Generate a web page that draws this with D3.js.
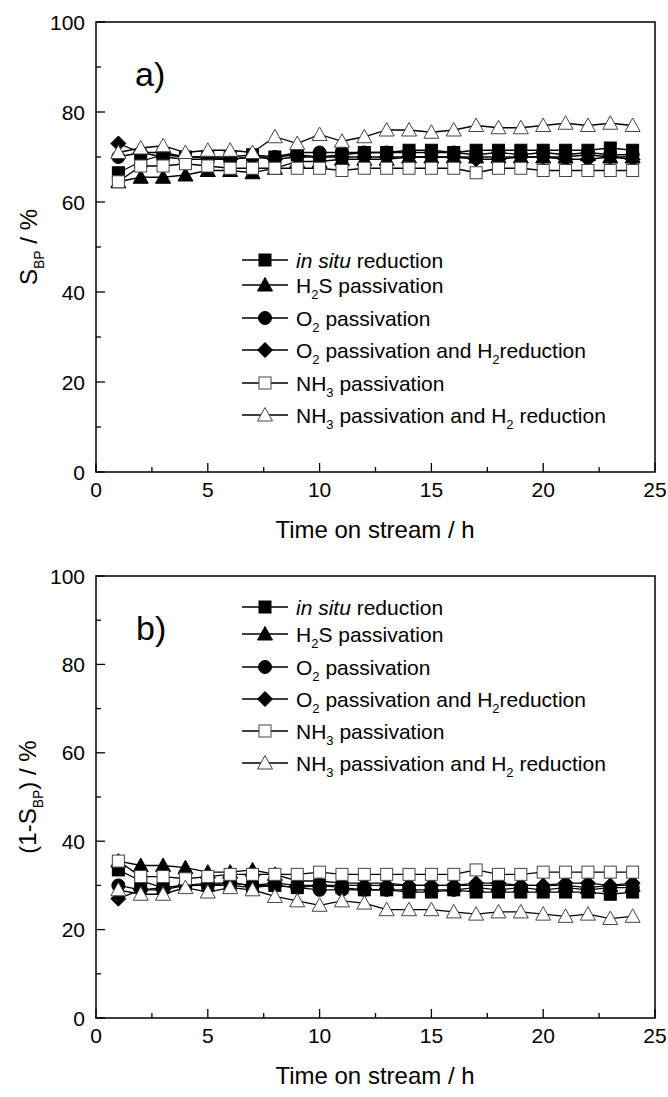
<!DOCTYPE html>
<html lang="en">
<head>
<meta charset="UTF-8">
<title>S_BP vs time on stream</title>
<script src="https://d3js.org/d3.v7.min.js"></script>
<style>
  body { margin: 0; background: #fff; }
  svg text { font-family: "Liberation Sans", Arial, sans-serif; fill: #000; }
</style>
</head>
<body>
<svg id="chart" width="668" height="1097"></svg>
<script>
// time on stream (h)
const hours = d3.range(1, 25);

// panel a: S_BP / %
const inSituA   = [66.5, 69, 70.5, 70, 70, 70, 70.5, 70, 70.5, 70, 70.5, 71, 71, 71.5, 71.5, 71, 71.5, 71.5, 71.5, 71.5, 71.5, 71.5, 72, 71.5];
const h2sA      = [64.5, 65.5, 65.5, 66, 67, 67, 66.5, 67.5, 69, 69, 69.5, 69.5, 69.5, 70, 70, 70, 70, 70, 70, 70, 70, 70.5, 70, 70];
const o2A       = [70, 71, 70, 69.5, 69.5, 69.5, 70, 70, 71, 71, 71, 71, 71, 71, 71, 71, 70.5, 71, 70.5, 71, 70.5, 71, 70.5, 70.5];
const o2h2A     = [73, 71, 71, 70, 70, 69.5, 70, 69.5, 70, 70, 70, 70, 70, 70, 70, 70, 69.5, 69.5, 70, 70, 69.5, 69.5, 70, 69.5];
const nh3A      = [64.5, 68, 68, 68.5, 68, 67.5, 67.5, 67.5, 67.5, 67.5, 67, 67.5, 67.5, 67.5, 67.5, 67.5, 66.5, 67.5, 67.5, 67, 67, 67, 67, 67];
const nh3h2A    = [71, 72, 72.5, 71, 71.5, 71.5, 71, 74.5, 73, 75, 73.5, 74.5, 76, 76, 75.5, 76, 77, 76.5, 76.5, 77, 77.5, 77, 77.5, 77];

// panel b: (1-S_BP) / %
const inSituB   = [33.5, 31, 29.5, 30, 30, 30, 29.5, 30, 29.5, 30, 29.5, 29, 29, 28.5, 28.5, 29, 28.5, 28.5, 28.5, 28.5, 28.5, 28.5, 28, 28.5];
const h2sB      = [35.5, 34.5, 34.5, 34, 33, 33, 33.5, 32.5, 31, 31, 30.5, 30.5, 30.5, 30, 30, 30, 30, 30, 30, 30, 30, 29.5, 30, 30];
const o2B       = [30, 29, 29.5, 30, 30.5, 30.5, 30, 30, 29.5, 29, 29, 29, 29, 29, 29, 29, 29.5, 29, 29.5, 29, 29.5, 29, 29.5, 29.5];
const o2h2B     = [27, 29, 29, 30, 30, 30.5, 30, 30.5, 30, 30, 30, 30, 30, 30, 30, 30, 30.5, 30.5, 30, 30, 30.5, 30.5, 30, 30.5];
const nh3B      = [35.5, 32, 32, 31.5, 32, 32.5, 32.5, 32.5, 32.5, 33, 32.5, 32.5, 32.5, 32.5, 32.5, 32.5, 33.5, 32.5, 32.5, 33, 33, 33, 33, 33];
const nh3h2B    = [29, 28, 28, 29.5, 28.5, 29.5, 29, 27.5, 26.5, 25.5, 26.5, 26, 24.5, 24.5, 24.5, 24, 23.5, 24, 24, 23.5, 23, 23.5, 22.5, 23];

// legend labels: [text, kind] pieces (i = italic, s = subscript)
const legendLabels = [
  [["in situ", "i"], [" reduction", ""]],
  [["H", ""], ["2", "s"], ["S passivation", ""]],
  [["O", ""], ["2", "s"], [" passivation", ""]],
  [["O", ""], ["2", "s"], [" passivation and H", ""], ["2", "s"], ["reduction", ""]],
  [["NH", ""], ["3", "s"], [" passivation", ""]],
  [["NH", ""], ["3", "s"], [" passivation and H", ""], ["2", "s"], [" reduction", ""]]
];
const symbols = ["square", "triangle", "circle", "diamond", "square", "triangle"];
const filled  = [true, true, true, true, false, false];

const xTicks = [0, 5, 10, 15, 20, 25];
const yTicks = [0, 20, 40, 60, 80, 100];

const svg = d3.select("#chart");

function marker(g, type, fill, cx, cy) {
  const fc = fill ? "#000" : "#fff";
  const sc = fill ? "#000" : "#444";
  if (type === "square") {
    g.append("rect").attr("x", cx - 6).attr("y", cy - 6).attr("width", 12).attr("height", 12)
      .attr("fill", fc).attr("stroke", sc).attr("stroke-width", 1);
  } else if (type === "circle") {
    g.append("circle").attr("cx", cx).attr("cy", cy).attr("r", 6.5)
      .attr("fill", fc).attr("stroke", sc).attr("stroke-width", 1);
  } else if (type === "triangle") {
    g.append("path").attr("d", `M${cx},${cy - 7.5}L${cx + 7.5},${cy + 6}L${cx - 7.5},${cy + 6}Z`)
      .attr("fill", fc).attr("stroke", sc).attr("stroke-width", 1);
  } else if (type === "diamond") {
    g.append("path").attr("d", `M${cx},${cy - 7.5}L${cx + 7.5},${cy}L${cx},${cy + 7.5}L${cx - 7.5},${cy}Z`)
      .attr("fill", fc).attr("stroke", sc).attr("stroke-width", 1);
  }
}

function panel(opt) {
  const x = d3.scaleLinear().domain([0, 25]).range([96, 655]);
  const y = d3.scaleLinear().domain([0, 100]).range([opt.bottom, opt.top]);
  const g = svg.append("g");

  // series
  opt.series.forEach((vals, i) => {
    const sg = g.append("g");
    const line = d3.line().x((d, j) => x(hours[j])).y(d => y(d));
    sg.append("path").attr("d", line(vals)).attr("fill", "none")
      .attr("stroke", "#000").attr("stroke-width", 1.3);
    vals.forEach((v, j) => marker(sg, symbols[i], filled[i], x(hours[j]), y(v)));
  });

  // frame
  g.append("rect").attr("x", x(0)).attr("y", y(100))
    .attr("width", x(25) - x(0)).attr("height", y(0) - y(100))
    .attr("fill", "none").attr("stroke", "#000").attr("stroke-width", 1.5);

  // x ticks (inward)
  d3.range(0, 25.1, 2.5).forEach(t => {
    const major = t % 5 === 0;
    g.append("line").attr("x1", x(t)).attr("x2", x(t))
      .attr("y1", y(0)).attr("y2", y(0) - (major ? 9 : 5))
      .attr("stroke", "#000").attr("stroke-width", 1.3);
  });
  xTicks.forEach(t => {
    g.append("text").attr("x", x(t)).attr("y", y(0) + 25)
      .attr("text-anchor", "middle").attr("font-size", 21).text(t);
  });

  // y ticks (inward)
  d3.range(0, 101, 10).forEach(t => {
    const major = t % 20 === 0;
    g.append("line").attr("x1", x(0)).attr("x2", x(0) + (major ? 9 : 5))
      .attr("y1", y(t)).attr("y2", y(t))
      .attr("stroke", "#000").attr("stroke-width", 1.3);
  });
  yTicks.forEach(t => {
    g.append("text").attr("x", 85).attr("y", y(t) + 7.5)
      .attr("text-anchor", "end").attr("font-size", 21).text(t);
  });

  // axis titles
  g.append("text").attr("x", 375).attr("y", y(0) + 66)
    .attr("text-anchor", "middle").attr("font-size", 24).text("Time on stream / h");

  const yt = g.append("text")
    .attr("transform", `translate(${opt.yTitleX},${(y(0) + y(100)) / 2}) rotate(-90)`)
    .attr("text-anchor", "middle").attr("font-size", 24);
  opt.yTitle.forEach(p => {
    if (p[1] === "s") {
      yt.append("tspan").attr("font-size", 14).attr("dy", 7).text(p[0]);
    } else {
      yt.append("tspan").attr("dy", p[2] ? -7 : 0).text(p[0]);
    }
  });

  // panel label
  g.append("text").attr("x", opt.labelX).attr("y", opt.labelY)
    .attr("font-size", 34).text(opt.label);

  // legend
  opt.legendY.forEach((ly, i) => {
    const lg = g.append("g");
    lg.append("line").attr("x1", 242).attr("x2", 288).attr("y1", ly).attr("y2", ly)
      .attr("stroke", "#000").attr("stroke-width", 1.3);
    marker(lg, symbols[i], filled[i], 265, ly);
    const t = lg.append("text").attr("x", 296).attr("y", ly + 7.5).attr("font-size", 21);
    let sub = false;
    legendLabels[i].forEach(p => {
      const ts = t.append("tspan").text(p[0]);
      if (p[1] === "i") ts.attr("font-style", "italic");
      if (p[1] === "s") { ts.attr("font-size", 13).attr("dy", 6); sub = true; }
      else if (sub) { ts.attr("dy", -6); sub = false; }
    });
  });
}

panel({
  top: 22, bottom: 472,
  series: [inSituA, h2sA, o2A, o2h2A, nh3A, nh3h2A],
  yTitle: [["S", ""], ["BP", "s"], [" / %", "", true]],
  yTitleX: 37,
  label: "a)", labelX: 135, labelY: 86,
  legendY: [260, 285, 318, 350, 383, 415]
});

panel({
  top: 576, bottom: 1018,
  series: [inSituB, h2sB, o2B, o2h2B, nh3B, nh3h2B],
  yTitle: [["(1-S", ""], ["BP", "s"], [") / %", "", true]],
  yTitleX: 36,
  label: "b)", labelX: 136, labelY: 640,
  legendY: [607, 634, 667, 699, 731, 763]
});
</script>
</body>
</html>
